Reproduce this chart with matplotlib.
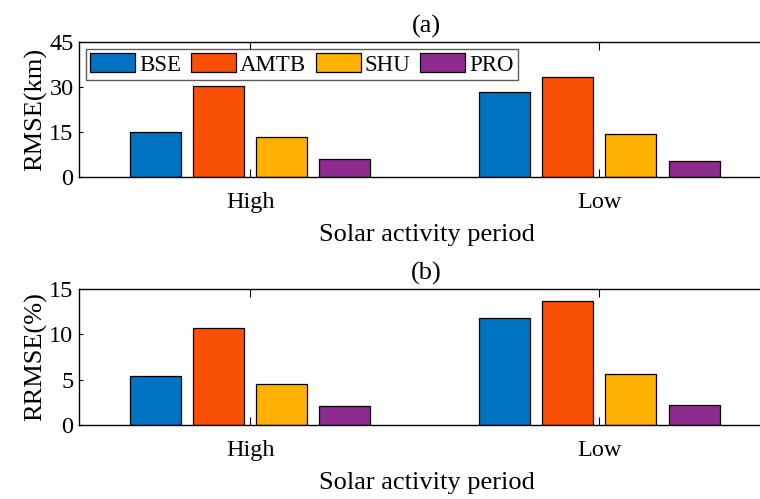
import matplotlib
matplotlib.use("Agg")
import matplotlib.pyplot as plt
import numpy as np

plt.rcParams['font.family'] = ['Liberation Serif', 'DejaVu Serif']
plt.rcParams['font.size'] = 18

categories = ['High', 'Low']
methods = ['BSE', 'AMTB', 'SHU', 'PRO']
rmse = {
    'BSE': [14.9, 28.2],
    'AMTB': [30.5, 33.5],
    'SHU': [13.4, 14.5],
    'PRO': [5.85, 5.5],
}
rrmse = {
    'BSE': [5.36, 11.76],
    'AMTB': [10.73, 13.7],
    'SHU': [4.52, 5.62],
    'PRO': [2.05, 2.24],
}
colors = ['#0072C2', '#F95005', '#FFB000', '#8F2B8F']

W, H = 760, 499
fig = plt.figure(figsize=(W / 100, H / 100), dpi=100)

def px_axes(l, t, r, b):
    return fig.add_axes([l / W, 1 - b / H, (r - l) / W, (b - t) / H])

ax1 = px_axes(79, 42, 774, 177)
ax2 = px_axes(79, 289, 774, 425)

x = np.arange(1, len(categories) + 1)
offsets = [-0.271, -0.09, 0.09, 0.271]
bw = 0.146

def draw(ax, data, ylim, yticks, ylabel, title, legend=False):
    for i, m in enumerate(methods):
        ax.bar(x + offsets[i], data[m], width=bw, color=colors[i],
               edgecolor='black', linewidth=0.9, label=m)
    ax.set_xlim(0.51, 2.5)
    ax.set_ylim(*ylim)
    ax.set_yticks(yticks)
    ax.set_xticks(x)
    ax.set_xticklabels(categories)
    ax.tick_params(direction='in', length=6, width=0.8, top=True, right=False,
                   pad=11, labelsize=17.5)
    ax.tick_params(axis='y', length=3, pad=4)
    for s in ax.spines.values():
        s.set_linewidth(1.0)
    ax.set_xlabel('Solar activity period', fontsize=19, labelpad=8)
    ax.set_ylabel(ylabel, fontsize=19, labelpad=1)
    ax.set_title(title, fontsize=19, pad=7)
    if legend:
        leg = ax.legend(loc='upper left', ncol=4, frameon=True, fancybox=False,
                        handlelength=1.96, handleheight=0.87, columnspacing=0.43,
                        handletextpad=0.17, borderaxespad=0.3, borderpad=0.2,
                        fontsize=16.5)
        leg.get_frame().set_edgecolor('#333333')
        leg.get_frame().set_linewidth(1.0)

draw(ax1, rmse, (0, 45), [0, 15, 30, 45], 'RMSE(km)', '(a)', legend=True)
draw(ax2, rrmse, (0, 15), [0, 5, 10, 15], 'RRMSE(%)', '(b)')

fig.savefig('out.png', dpi=100)
